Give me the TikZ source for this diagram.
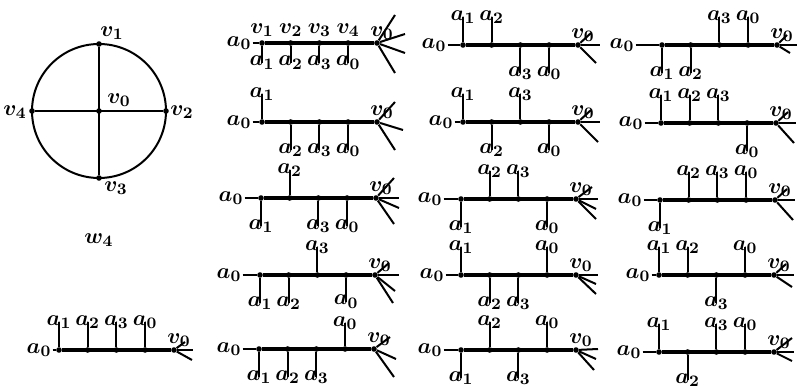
\documentclass[tikz,border=0pt]{standalone}
\usepackage{amsmath}
\usetikzlibrary{positioning}

\begin{document}
\begin{tikzpicture}[x=0.5pt,y=-0.5pt,
  spine/.style={line width=1.9pt},
  twig/.style={line width=1pt},
  dot/.style={circle,fill,inner sep=0pt,minimum size=2.8pt},
  lbl/.style={inner sep=0.5pt,font=\fontsize{11}{13}\selectfont\boldmath}]
  \useasboundingbox (0,0) rectangle (797,389);
  % the wheel
  \node[dot] (hub)  at (99,111) {};
  \node[dot] (rim1) at (99,44)  {};
  \node[dot] (rim2) at (166,111) {};
  \node[dot] (rim3) at (99,178) {};
  \node[dot] (rim4) at (32,111) {};
  \draw[twig] (hub) circle[radius=67];
  \draw[twig] (rim1) -- (rim3);
  \draw[twig] (rim4) -- (rim2);
  \node[lbl] (hubl)  at (119,100) {$v_0$};
  \node[lbl] (rim1l) at (112,33)  {$v_1$};
  \node[lbl] (rim2l) at (182,112) {$v_2$};
  \node[lbl] (rim3l) at (116,188) {$v_3$};
  \node[lbl] (rim4l) at (15,112)  {$v_4$};
  \node[lbl] (wname) at (99,240)  {$w_4$};
  % the trees: x, y, lead of a0, pendant sides, fan at v0
  \foreach \x/\y/\lead/\pa/\pb/\pc/\pd/\fan [count=\tr] in {
      262/43/23/0.7/0.7/0.7/0.7/{18/-28,28/-9,28/10,18/30},
      262/122/23/-1/1/1/1/{18/-20,26/8,18/28},
      261/198/30/1/-1/1/1/{18/-20,23/0,23/10,18/26},
      260/275/31/1/1/-1/0.95/{14/-12,24/0,20/16,18/28},
      259/349/30/1/1/1/-0.93/{16/-12,22/10,20/28},
      463/45/29/-1/-1/1/1/{13/-12,22/0,18/18},
      463/122/22/-1/1/-1/1/{13/-12,22/0,20/20},
      461/199/31/1/-1/-1/1/{16/-12,22/0,20/10,20/20},
      461/275/29/-1/1/1/-1/{22/0,20/9,20/19},
      461/350/31/1/-1/1/-1/{22/-1,20/9,18/20},
      662/45/40/1/1/-1/-1/{10/-10,20/0,13/8},
      661/123/30/-1/-1/-1/1/{12/-11,20/0,18/20},
      660/200/30/1/-1/-1/-1/{12/-11,20/0,18/20},
      659/275/21/-1/-1/1/-1/{12/-11,20/0,18/12},
      659/352/30/-1/1/-1/-1/{18/-14,20/0,18/9},
      59/350/20/-1/-1/-1/-1/{11/-8,19/0,18/10}}{
    \node[lbl] (t\tr r) at (\x-\lead,\y) {$a_0$};
    \foreach \k in {1,...,4}
      \node[dot] (t\tr v\k) at (\x+28.7*\k-28.7,\y) {};
    \node[dot] (t\tr v5) at (\x+115,\y) {};
    \node[lbl] (t\tr z) at (\x+120,\y-10) {$v_0$};
    \draw[twig] (t\tr r) -- (t\tr v1);
    \draw[spine] (t\tr v1) -- (t\tr v5);
    \foreach \s [count=\k] in {\pa,\pb,\pc,\pd}{
      \pgfmathtruncatemacro{\j}{mod(\k,4)}
      \node[lbl] (t\tr a\k) at (\x+28.7*\k-28.7,\y+28*\s) {$a_{\j}$};
      \draw[twig] (t\tr v\k) -- (t\tr v\k |- t\tr a\k);
    }
    \foreach \dx/\dy [count=\f] in \fan{
      \coordinate (t\tr f\f) at (\x+115+\dx,\y+\dy);
      \draw[twig] (t\tr v5) -- (t\tr f\f);
    }
  }
  % vertex names on the first tree
  \foreach \k in {1,...,4}
    \node[lbl,above=1pt of t1v\k] (t1l\k) {$v_{\k}$};
\end{tikzpicture}
\end{document}
